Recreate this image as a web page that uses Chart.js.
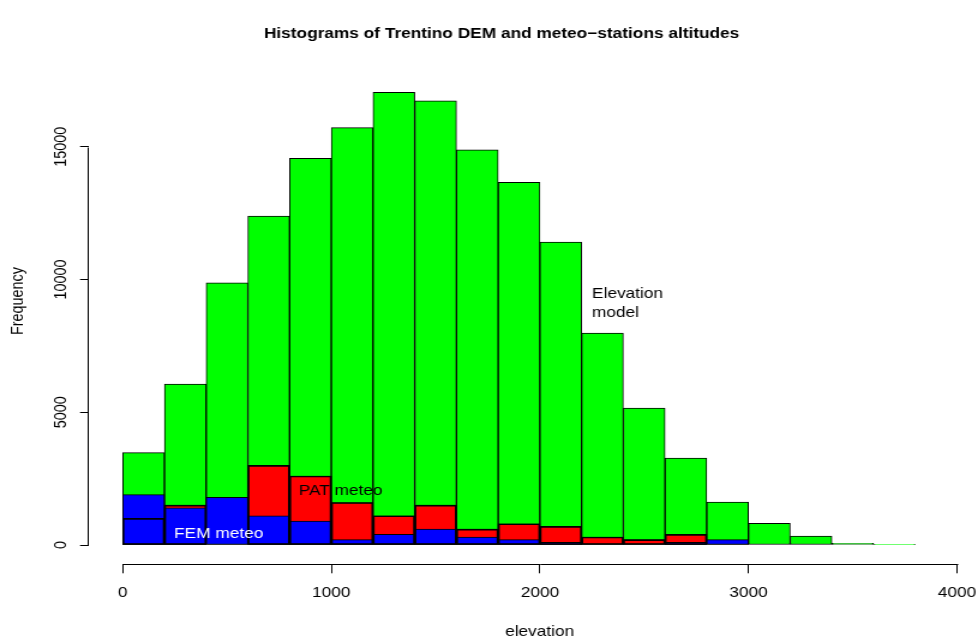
<!DOCTYPE html>
<html>
<head>
<meta charset="utf-8">
<title>Histograms of Trentino DEM and meteo-stations altitudes</title>
<script src="https://cdn.jsdelivr.net/npm/chart.js@4.4.1/dist/chart.umd.min.js"></script>
<style>
  html, body { margin: 0; padding: 0; overflow: hidden; background: #fff; }
  canvas { display: block; }
</style>
</head>
<body>
<!-- drawn at R-like proportions, then widened like the original png -->
<canvas id="histChart" width="825" height="638" style="width:990px;height:638px"></canvas>
<script>
// 200 m altitude classes, bar midpoints
const binMids = [100, 300, 500, 700, 900, 1100, 1300, 1500, 1700, 1900,
                 2100, 2300, 2500, 2700, 2900, 3100, 3300, 3500, 3700];
// DEM cells per class
const demCounts = [3480, 6060, 9870, 12390, 14560, 15720, 17050, 16730, 14880, 13660,
                   11410, 7980, 5160, 3270, 1620, 820, 340, 60, 10];
// stations (scaled x100) per class
const patCounts = [1000, 1500, 0, 3000, 2600, 1600, 1100, 1500, 600, 800,
                   700, 300, 200, 400, 0, 0, 0, 0, 0];
const femCounts = [1900, 1400, 1800, 1100, 900, 200, 400, 600, 300, 200,
                   100, 0, 0, 100, 200, 0, 0, 0, 0];
const xTicks = [0, 1000, 2000, 3000, 4000];
const yTicks = [0, 5000, 10000, 15000];

const FONT = '"Liberation Sans", Arial, Helvetica, sans-serif';
Chart.defaults.font.family = FONT;
Chart.defaults.font.size = 14.4;
Chart.defaults.color = "#000";

function toPoints(values) {
    return binMids.map((m, i) => ({ x: m, y: values[i] }));
}

// axis lines R style (only between first and last tick), title and labels
const rDecor = {
    id: "rDecor",
    afterDraw(chart) {
        const { ctx, chartArea, scales: { x, y } } = chart;
        ctx.save();
        ctx.strokeStyle = "#000";
        ctx.lineWidth = 1;
        ctx.beginPath();
        const yb = Math.round(chartArea.bottom) + 0.5;
        ctx.moveTo(Math.round(x.getPixelForValue(xTicks[0])) + 0.5, yb);
        ctx.lineTo(Math.round(x.getPixelForValue(xTicks[xTicks.length - 1])) + 0.5, yb);
        const xl = Math.round(chartArea.left) - 0.5;
        ctx.moveTo(xl, Math.round(y.getPixelForValue(yTicks[0])) + 0.5);
        ctx.lineTo(xl, Math.round(y.getPixelForValue(yTicks[yTicks.length - 1])) + 0.5);
        ctx.stroke();

        ctx.fillStyle = "#000";
        ctx.font = "bold 14.4px " + FONT;
        ctx.textAlign = "center";
        ctx.textBaseline = "alphabetic";
        ctx.fillText("Histograms of Trentino DEM and meteo\u2212stations altitudes", 418, 38);

        ctx.font = "14.4px " + FONT;
        ctx.textBaseline = "middle";
        ctx.textAlign = "left";
        const ex = x.getPixelForValue(2250), ey = y.getPixelForValue(9100);
        ctx.fillText("Elevation", ex, ey - 9.3);
        ctx.fillText("model", ex, ey + 9.3);

        ctx.textAlign = "center";
        ctx.fillText("PAT meteo", x.getPixelForValue(1045), y.getPixelForValue(2030));
        ctx.fillStyle = "#fff";
        ctx.fillText("FEM meteo", x.getPixelForValue(460), y.getPixelForValue(415));
        ctx.restore();
    }
};

new Chart(document.getElementById("histChart"), {
    type: "bar",
    data: {
        datasets: [
            { label: "Elevation model", data: toPoints(demCounts), backgroundColor: "#00ff00", order: 4 },
            { label: "PAT meteo", data: toPoints(patCounts), backgroundColor: "#ff0000", order: 3 },
            { label: "FEM meteo", data: toPoints(femCounts), backgroundColor: "#0000ff", order: 2 },
            // PAT borders redrawn over the blue bars
            { label: "PAT meteo", data: toPoints(patCounts), backgroundColor: "rgba(0,0,0,0)", order: 1 }
        ]
    },
    options: {
        responsive: false,
        animation: false,
        devicePixelRatio: 1,
        layout: { padding: { top: 38, left: 0, right: 0, bottom: 0 } },
        datasets: {
            bar: {
                grouped: false,
                barPercentage: 1,
                categoryPercentage: 1,
                borderColor: "#000",
                borderWidth: 1,
                borderSkipped: false
            }
        },
        plugins: {
            legend: { display: false },
            tooltip: { enabled: false },
            title: { display: false }
        },
        scales: {
            x: {
                type: "linear",
                min: -160,
                max: 4158,
                bounds: "data",
                offset: false,
                grid: { drawOnChartArea: false, offset: false, tickLength: 9.3, color: "#000" },
                border: { display: false },
                afterBuildTicks: s => { s.ticks = xTicks.map(v => ({ value: v })); },
                afterFit: s => { s.height = 74; },
                ticks: { autoSkip: false, maxRotation: 0, padding: 11, callback: v => String(v) },
                title: { display: true, text: "elevation", padding: { top: 0, bottom: -2.6 } }
            },
            y: {
                type: "linear",
                min: -715.5,
                max: 19094,
                bounds: "data",
                grid: { drawOnChartArea: false, tickLength: 7.75, color: "#000" },
                border: { display: false },
                afterBuildTicks: s => { s.ticks = yTicks.map(v => ({ value: v })); },
                afterFit: s => { s.width = 74.44; },
                ticks: { autoSkip: false, minRotation: 90, maxRotation: 90, crossAlign: "center", padding: -4, callback: v => String(v) },
                title: { display: true, text: "Frequency", padding: { top: 6.4, bottom: 0 } }
            }
        }
    },
    plugins: [rDecor]
});
</script>
</body>
</html>
